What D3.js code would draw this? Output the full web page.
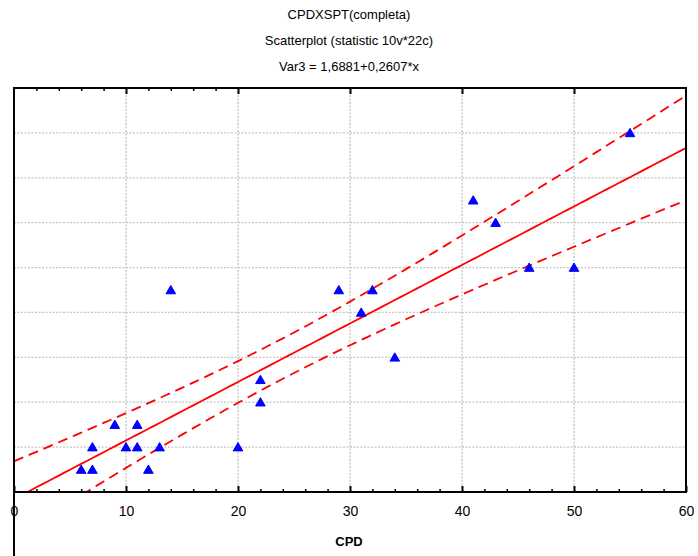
<!DOCTYPE html>
<html>
<head>
<meta charset="utf-8">
<script src="https://cdn.jsdelivr.net/npm/d3@7"></script>
<style>
  body { margin: 0; background: #fff; }
  text { font-family: "Liberation Sans", Arial, sans-serif; }
</style>
</head>
<body>
<script>
// data
const cpd  = [6, 7, 7, 9, 10, 11, 11, 12, 13, 14, 20, 22, 22, 29, 31, 32, 34, 41, 43, 46, 50, 55];
const var3 = [3, 3, 4, 5, 4, 4, 5, 3, 4, 11, 4, 7, 6, 11, 10, 11, 8, 15, 14, 12, 12, 18];
const xTicks = [0, 10, 20, 30, 40, 50, 60];
const yGrid = [4, 6, 8, 10, 12, 14, 16, 18];
const titles = ["CPDXSPT(completa)", "Scatterplot (statistic 10v*22c)", "Var3 = 1,6881+0,2607*x"];
// fit from the subtitle
const intercept = 1.6881, slope = 0.2607;
const tCrit = 2.086; // t(0.975, 20)

const margin = { top: 88, right: 12, bottom: 64, left: 14 };
const width = 698 - margin.left - margin.right;
const height = 556 - margin.top - margin.bottom;

const svg = d3.select("body").append("svg")
    .attr("width", 698)
    .attr("height", 556);

const g = svg.append("g")
    .attr("transform", "translate(" + margin.left + "," + margin.top + ")");

const x = d3.scaleLinear().domain([0, 60]).range([0, width]);
const y = d3.scaleLinear().domain([2, 20]).range([height, 0]);

// titles
svg.selectAll(".title")
    .data(titles)
    .enter().append("text")
    .attr("class", "title")
    .attr("x", 349)
    .attr("y", function(d, i) { return 19 + i * 26; })
    .attr("text-anchor", "middle")
    .attr("font-size", "13px")
    .text(function(d) { return d; });

g.append("defs").append("clipPath").attr("id", "clip")
    .append("rect").attr("width", width).attr("height", height);

// grid
g.selectAll(".vgrid")
    .data(xTicks.slice(1, -1))
    .enter().append("line")
    .attr("x1", function(d) { return x(d); })
    .attr("x2", function(d) { return x(d); })
    .attr("y1", 0).attr("y2", height)
    .attr("stroke", "#c4c4c4").attr("stroke-width", 1.3)
    .attr("stroke-dasharray", "2,1.5");

g.selectAll(".hgrid")
    .data(yGrid)
    .enter().append("line")
    .attr("x1", 0).attr("x2", width)
    .attr("y1", function(d) { return y(d); })
    .attr("y2", function(d) { return y(d); })
    .attr("stroke", "#c4c4c4").attr("stroke-width", 1.3)
    .attr("stroke-dasharray", "2,1.5");

// regression + 95% confidence band
const n = cpd.length;
const mx = d3.mean(cpd);
const sxx = d3.sum(cpd, function(v) { return (v - mx) * (v - mx); });
const sse = d3.sum(cpd, function(v, i) { const r = var3[i] - (intercept + slope * v); return r * r; });
const s = Math.sqrt(sse / (n - 2));
const xs = d3.range(0, 60.01, 0.5);
function fit(v) { return intercept + slope * v; }
function half(v) { return tCrit * s * Math.sqrt(1 / n + (v - mx) * (v - mx) / sxx); }

const line = d3.line()
    .x(function(d) { return x(d[0]); })
    .y(function(d) { return y(d[1]); });

const lines = g.append("g").attr("clip-path", "url(#clip)");
lines.append("path")
    .datum(xs.map(function(v) { return [v, fit(v)]; }))
    .attr("d", line)
    .attr("fill", "none").attr("stroke", "#ff0000").attr("stroke-width", 1.8);
lines.append("path")
    .datum(xs.map(function(v) { return [v, fit(v) + half(v)]; }))
    .attr("d", line)
    .attr("fill", "none").attr("stroke", "#ff0000").attr("stroke-width", 1.8)
    .attr("stroke-dasharray", "10,6");
lines.append("path")
    .datum(xs.map(function(v) { return [v, fit(v) - half(v)]; }))
    .attr("d", line)
    .attr("fill", "none").attr("stroke", "#ff0000").attr("stroke-width", 1.8)
    .attr("stroke-dasharray", "10,6");

// points
g.selectAll(".pt")
    .data(cpd)
    .enter().append("path")
    .attr("class", "pt")
    .attr("transform", function(d, i) { return "translate(" + x(d) + "," + (y(var3[i]) + 1) + ")"; })
    .attr("d", d3.symbol().type(d3.symbolTriangle).size(40))
    .attr("fill", "#0000ff")
    .attr("stroke", "#0000ff")
    .attr("stroke-width", 1)
    .attr("stroke-linejoin", "round");

// frame
g.append("rect")
    .attr("width", width).attr("height", height)
    .attr("fill", "none").attr("stroke", "#000").attr("stroke-width", 2);

// left line runs down to the bottom of the picture
svg.append("line")
    .attr("x1", margin.left).attr("x2", margin.left)
    .attr("y1", margin.top).attr("y2", 556)
    .attr("stroke", "#000").attr("stroke-width", 2);

// bottom axis: inward ticks, minor every 2
const bottomMinor = g.append("g")
    .attr("transform", "translate(0," + height + ")")
    .call(d3.axisBottom(x).tickValues(d3.range(2, 60, 2).filter(function(v) { return v % 10; }))
        .tickSize(-3).tickFormat(""));
bottomMinor.select(".domain").remove();
bottomMinor.selectAll("line").attr("stroke-width", 1.5);

const bottomMajor = g.append("g")
    .attr("transform", "translate(0," + height + ")")
    .call(d3.axisBottom(x).tickValues(xTicks).tickSize(-6).tickPadding(14).tickFormat(d3.format("d")));
bottomMajor.select(".domain").remove();
bottomMajor.selectAll("line").attr("stroke-width", 2);
bottomMajor.selectAll("text")
    .attr("font-size", "14px")
    .attr("font-family", "'Liberation Sans', Arial, sans-serif");

// top axis: minor ticks only up to 20
const topMinor = g.append("g")
    .call(d3.axisTop(x).tickValues([2, 4, 6, 8, 12, 14, 16, 18]).tickSize(-3).tickFormat(""));
topMinor.select(".domain").remove();
topMinor.selectAll("line").attr("stroke-width", 1.5);
const topMajor = g.append("g")
    .call(d3.axisTop(x).tickValues(xTicks.slice(1, -1)).tickSize(-6).tickFormat(""));
topMajor.select(".domain").remove();
topMajor.selectAll("line").attr("stroke-width", 2);

// x axis label
svg.append("text")
    .attr("x", 349)
    .attr("y", 546)
    .attr("text-anchor", "middle")
    .attr("font-size", "13px")
    .attr("font-weight", "bold")
    .text("CPD");
</script>
</body>
</html>
